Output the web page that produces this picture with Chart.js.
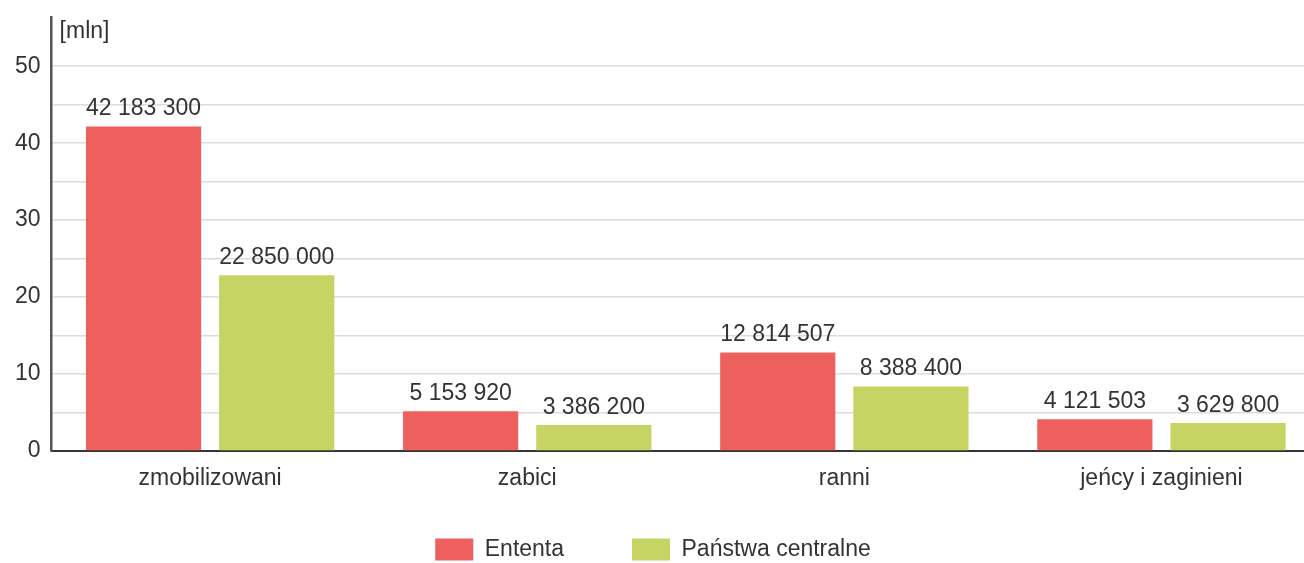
<!DOCTYPE html>
<html lang="pl">
<head>
<meta charset="UTF-8">
<title>Straty I wojny światowej</title>
<script src="https://cdn.jsdelivr.net/npm/chart.js"></script>
<style>
  html, body { margin: 0; padding: 0; background: #fff; overflow: hidden; }
  /* płótno nieco szersze od okna: siatka i oś X wychodzą poza prawą krawędź */
  #wrap { width: 1320px; height: 563px; }
</style>
</head>
<body>
<div id="wrap"><canvas id="straty"></canvas></div>

<script>
    // dane (liczba osób)
    var kategorie = ['zmobilizowani', 'zabici', 'ranni', 'jeńcy i zaginieni'];
    var ententa = [42183300, 5153920, 12814507, 4121503];
    var panstwaCentralne = [22850000, 3386200, 8388400, 3629800];
    var etykietyOsi = [0, 10, 20, 30, 40, 50];

    var FONT = '"Liberation Sans", Arial, Helvetica, sans-serif';
    var ROZMIAR = 23;
    var KOLOR_TEKSTU = '#333333';
    var ODSTEP_LEGENDY = 68;
    var SRODEK_LEGENDY = 653;

    function wMln(arr) {
        return arr.map(function (v) { return v / 1000000; });
    }

    // 42183300 -> "42 183 300"
    function formatuj(n) {
        return String(n).replace(/\B(?=(\d{3})+(?!\d))/g, ' ');
    }

    // podpisy wartości nad słupkami
    const wartosciNadSlupkami = {
        id: 'wartosciNadSlupkami',
        afterDatasetsDraw(chart) {
            const ctx = chart.ctx;
            ctx.save();
            ctx.font = ROZMIAR + 'px ' + FONT;
            ctx.fillStyle = KOLOR_TEKSTU;
            ctx.textAlign = 'center';
            ctx.textBaseline = 'alphabetic';
            chart.data.datasets.forEach(function (ds, di) {
                chart.getDatasetMeta(di).data.forEach(function (bar, i) {
                    ctx.fillText(formatuj(ds.surowe[i]), bar.x, bar.y - 11);
                });
            });
            ctx.restore();
        }
    };

    // jednostka przy osi Y
    const jednostka = {
        id: 'jednostka',
        afterDraw(chart) {
            const y = chart.scales.y;
            const ctx = chart.ctx;
            ctx.save();
            ctx.font = ROZMIAR + 'px ' + FONT;
            ctx.fillStyle = KOLOR_TEKSTU;
            ctx.textAlign = 'left';
            ctx.textBaseline = 'alphabetic';
            ctx.fillText('[mln]', y.right + 8, y.top + 21);
            ctx.restore();
        }
    };

    // legenda: szeroki odstęp między pozycjami, ale niska ramka
    // (rysowana wyżej o różnicę, żeby pozycje nie zjechały pod dół)
    const legendaUklad = {
        id: 'legendaUklad',
        beforeInit(chart) {
            const legenda = chart.legend;
            const fit = legenda.fit;
            const draw = legenda.draw;
            legenda.fit = function () {
                fit.apply(this, arguments);
                this.height = 67;
            };
            legenda.draw = function () {
                const top = this.top, left = this.left, right = this.right;
                this.top = top + 42 - ODSTEP_LEGENDY;
                this.left = 0;
                this.right = 2 * SRODEK_LEGENDY;
                draw.apply(this, arguments);
                this.top = top;
                this.left = left;
                this.right = right;
            };
        }
    };

    const ctx = document.getElementById('straty').getContext('2d');
    const wykres = new Chart(ctx, {
        type: 'bar',
        data: {
            labels: kategorie,
            datasets: [{
                label: 'Ententa',
                data: wMln(ententa),
                surowe: ententa,
                backgroundColor: '#ee605d',
                barPercentage: 0.865,
                categoryPercentage: 0.84
            }, {
                label: 'Państwa centralne',
                data: wMln(panstwaCentralne),
                surowe: panstwaCentralne,
                backgroundColor: '#c5d463',
                barPercentage: 0.865,
                categoryPercentage: 0.84
            }]
        },
        options: {
            responsive: true,
            maintainAspectRatio: false,
            animation: false,
            layout: { padding: { top: 17, left: 4, right: 0, bottom: 0 } },
            plugins: {
                tooltip: { enabled: false },
                legend: {
                    position: 'bottom',
                    labels: {
                        boxWidth: 38,
                        boxHeight: 22,
                        padding: ODSTEP_LEGENDY,
                        color: KOLOR_TEKSTU,
                        font: { family: FONT, size: ROZMIAR }
                    }
                }
            },
            scales: {
                x: {
                    grid: { display: false, drawTicks: false },
                    border: { color: '#333333', width: 2 },
                    ticks: {
                        color: KOLOR_TEKSTU,
                        padding: 14,
                        font: { family: FONT, size: ROZMIAR }
                    },
                    afterFit: function (skala) { skala.height = 45; }
                },
                y: {
                    min: 0,
                    max: 56.4,
                    grid: {
                        drawTicks: false,
                        lineWidth: 1.5,
                        color: function (c) {
                            var v = c.tick ? c.tick.value : 0;
                            return (v > 0 && v <= 50) ? '#dcdcdc' : 'rgba(0,0,0,0)';
                        }
                    },
                    border: { color: '#555555', width: 2.5 },
                    ticks: {
                        stepSize: 5,
                        padding: 11,
                        color: KOLOR_TEKSTU,
                        font: { family: FONT, size: ROZMIAR },
                        callback: function (v) {
                            return etykietyOsi.indexOf(v) >= 0 ? v : '';
                        }
                    },
                    afterFit: function (skala) { skala.paddingTop = 0; }
                }
            }
        },
        plugins: [wartosciNadSlupkami, jednostka, legendaUklad]
    });
</script>
</body>
</html>
